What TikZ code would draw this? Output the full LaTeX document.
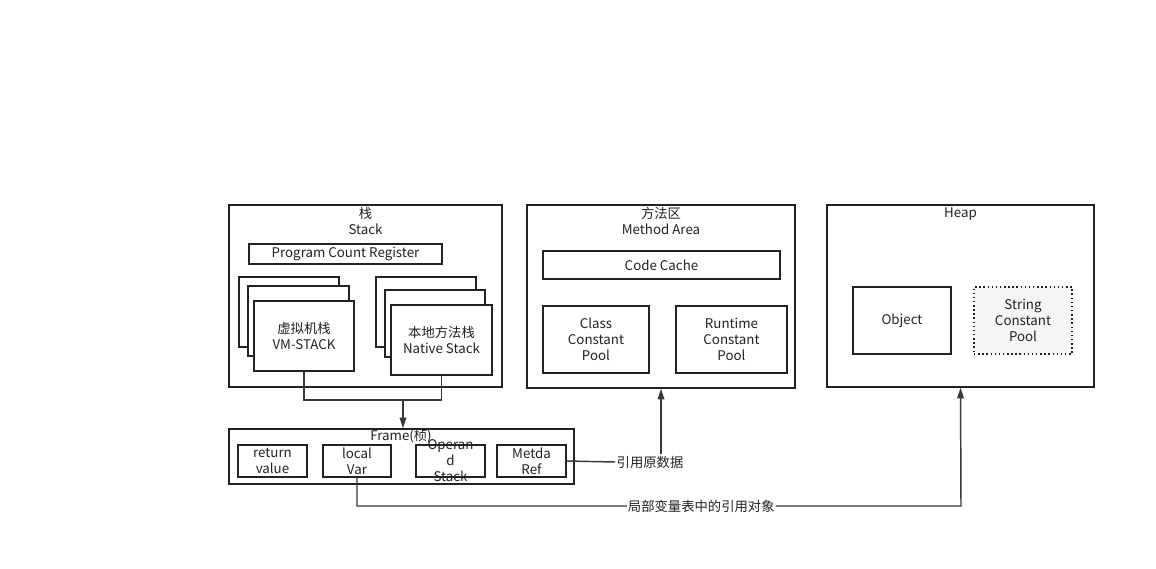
\documentclass[tikz,border=0pt]{standalone}
\usepackage{fontspec}
\setmainfont{Noto Sans CJK SC}
\usepackage{tikz}
\usetikzlibrary{positioning,arrows.meta,calc}
\definecolor{inkgray}{HTML}{222222}
\definecolor{poolgray}{HTML}{F5F5F5}

\begin{document}
\begin{tikzpicture}[
  x=0.75pt, y=-0.75pt,
  font=\fontsize{10}{12}\selectfont,
  box/.style 2 args={
    draw=inkgray,
    line width=1.1pt,
    fill=white,
    minimum width=#1*0.75pt,
    minimum height=#2*0.75pt,
    inner sep=0pt,
    align=center,
    text=inkgray,
  },
  title/.style={
    anchor=north,
    align=center,
    inner sep=1pt,
    text=inkgray,
  },
  line/.style={
    line width=1.1pt,
    draw=inkgray!90,
  },
  arrow/.style={
    line,
    -{Triangle[length=8pt,width=5pt]},
  }]
  \useasboundingbox[fill=white] (0,0) rectangle (1156,568);

  % stack
  \node[box={273}{182}] (stack) at (365.5,296) {};
  \node[title] (stacktitle) at (365.5,206) {栈\\Stack};
  \node[box={193}{20}] (pcr) at (345.5,254) {Program Count Register};
  \foreach \x/\y/\w/\h [count=\i] in {289/312/100/70, 298.5/321/101/70}
  {
    \node[box={\w}{\h}] (vmback\i) at (\x,\y) {};
  }
  \node[box={100}{70}] (vm) at (304,336) {虚拟机栈\\VM-STACK};
  \foreach \x/\y/\w/\h [count=\i] in {426/312/100/70, 435/323.5/100/67}
  {
    \node[box={\w}{\h}] (nativeback\i) at (\x,\y) {};
  }
  \node[box={101}{70}] (native) at (441.5,340) {本地方法栈\\Native Stack};

  % method area
  \node[box={268}{183}] (method) at (661,296.5) {};
  \node[title] (methodtitle) at (661,206) {方法区\\Method Area};
  \node[box={237}{28}] (codecache) at (661.5,265) {Code Cache};
  \node[box={106}{67}] (classpool) at (596,339.5) {Class\\Constant\\Pool};
  \node[box={111}{67}] (runtimepool) at (731.5,339.5) {Runtime\\Constant\\Pool};

  % heap
  \node[box={267}{182}] (heap) at (960.5,296) {};
  \node[title] (heaptitle) at (960.5,206) {Heap};
  \node[box={98}{67}] (object) at (902,320.5) {Object};
  \node[box={98}{67}, dotted, fill=poolgray] (stringpool) at (1023,320.5)
    {String\\Constant\\Pool};

  % frame
  \node[box={345}{55}] (frame) at (401.5,456.5) {};
  \node[title, inner sep=0pt] (frametitle) at (401,429) {Frame(桢)};
  \node[box={69}{32}] (retval) at (272.5,461) {return\\value};
  \node[box={68}{32}] (localvar) at (357,461) {local\\Var};
  \node[box={69}{32}, fill=none] (operand) at (450.5,461) {};
  \node[text=inkgray, align=center, inner sep=0pt] (operandtext) at (operand)
    {Operan\\d\\Stack};
  \node[box={69}{32}] (metda) at (531.5,461) {Metda\\Ref};

  % connectors
  \coordinate (merge) at (403,400);
  \coordinate (turn) at (961,506);
  \draw[line] (vm.south) |- (merge) -| (native.south);
  \draw[arrow] (merge) -- (merge |- frame.north);
  \node[text=inkgray, inner sep=1pt] (refmeta) at (650,462) {引用原数据};
  \draw[line] (metda.east) -- (refmeta.west);
  \draw[arrow] (refmeta.north -| method.south) -- (method.south);
  \draw[arrow] (localvar.south) |- (turn)
    node[pos=0.785, fill=white, text=inkgray, inner sep=1pt] {局部变量表中的引用对象}
    -- (heap.south);
\end{tikzpicture}
\end{document}
